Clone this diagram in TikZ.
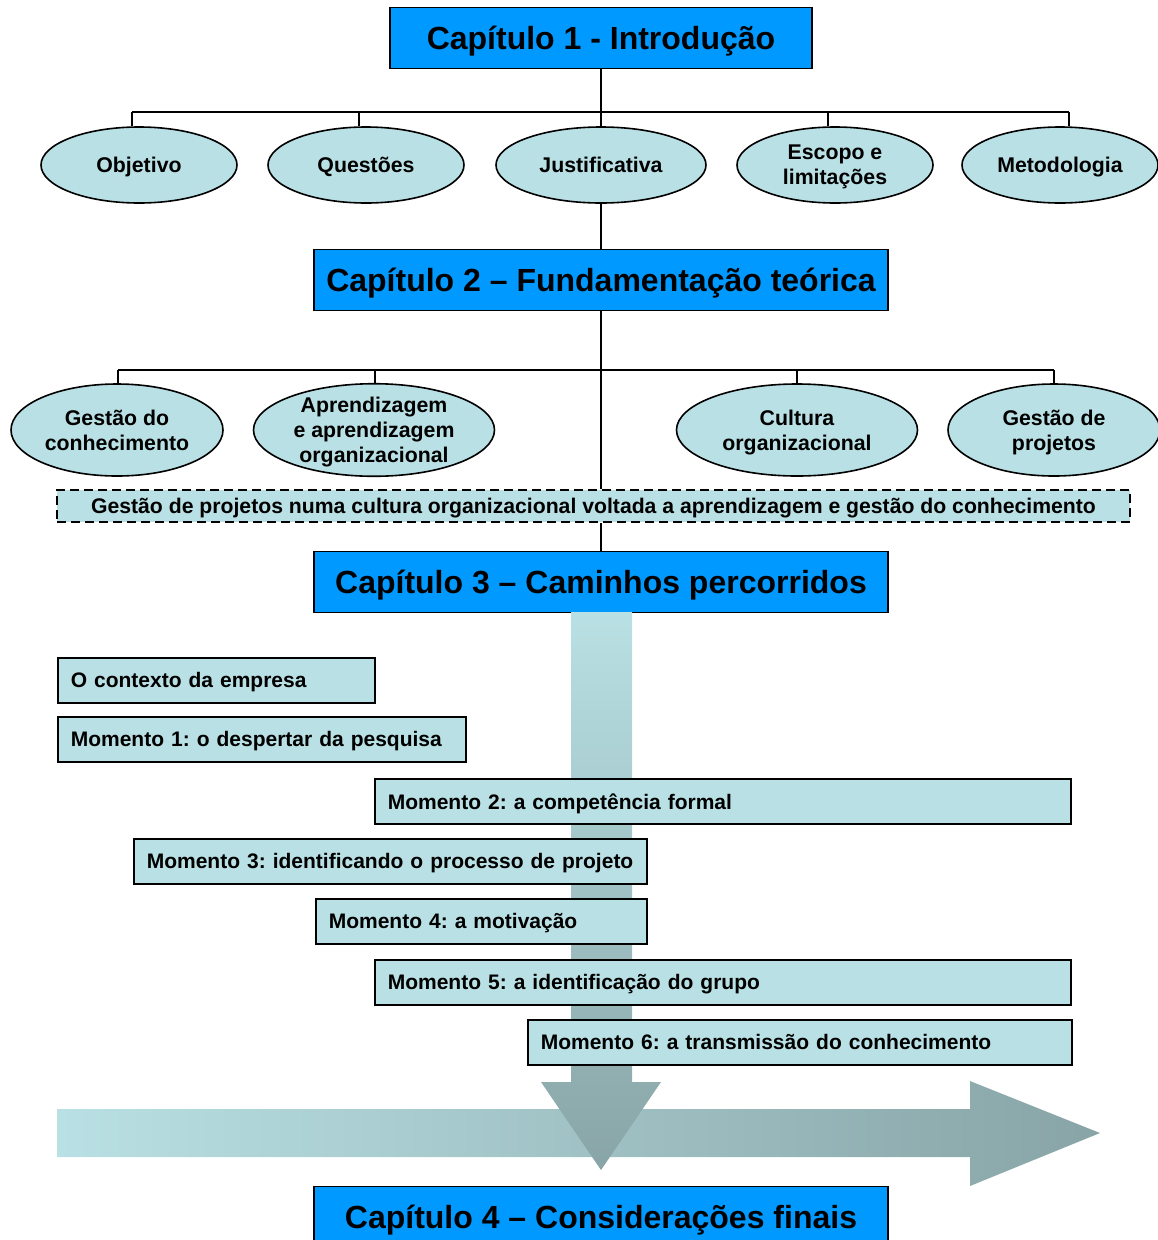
\documentclass[tikz,border=0pt]{standalone}
\usepackage{fontspec}
\setmainfont{Liberation Sans}
\usetikzlibrary{shapes.geometric}
\definecolor{capblue}{RGB}{0,153,255}
\definecolor{lightcyan}{RGB}{185,224,228}
\definecolor{greyteal}{RGB}{136,164,166}
\frenchspacing

\begin{document}
\begin{tikzpicture}[x=1pt, y=-1pt, line width=1.6pt,
    capitulo/.style={draw, fill=capblue, minimum width=574pt, minimum height=61pt, inner sep=0pt, text depth=0pt, font=\fontsize{32}{34}\selectfont\bfseries},
    topico/.style={draw, ellipse, fill=lightcyan, minimum width=196pt, minimum height=76pt, inner sep=0pt, text depth=0pt, align=center, font=\fontsize{21.3}{25}\selectfont\bfseries},
    momento/.style={draw, fill=lightcyan, minimum height=45pt, inner xsep=13pt, inner ysep=0pt, text depth=0pt, text width=#1, align=left, anchor=north west, font=\fontsize{21}{24}\selectfont\bfseries}]

\useasboundingbox (0,0) rectangle (1157,1240);

% Chapter 1 and its topics
\node[capitulo, minimum width=422pt] (cap1) at (601,38) {Capítulo 1 - Introdução};
\node[topico] (obj) at (139,165) {Objetivo};
\node[topico] (quest) at (366,165) {Questões};
\node[topico, minimum width=210pt] (just) at (601,165) {Justificativa};
\node[topico] (esc) at (835,165) {Escopo e\\limitações};
\node[topico] (met) at (1060,165) {Metodologia};

\coordinate (b1a) at (132,112);
\coordinate (b1b) at (359,112);
\coordinate (b1c) at (828,112);
\coordinate (b1d) at (1069,112);
\draw (b1a) -- (b1d);
\draw (cap1) -- (just);
\draw (b1a) -- (b1a |- obj.north);
\draw (b1b) -- (b1b |- quest.north);
\draw (b1c) -- (b1c |- esc.north);
\draw (b1d) -- (b1d |- met.north);

% Chapter 2 and its topics
\node[capitulo] (cap2) at (601,280) {Capítulo 2 – Fundamentação teórica};
\draw (just) -- (cap2);

\node[topico, minimum width=212pt, minimum height=92pt] (gc) at (117,430) {Gestão do\\conhecimento};
\node[topico, minimum width=241pt, minimum height=92pt] (apr) at (374,430) {Aprendizagem\\e aprendizagem\\organizacional};
\node[topico, minimum width=241pt, minimum height=92pt] (cult) at (797,430) {Cultura\\organizacional};
\node[topico, minimum width=212pt, minimum height=92pt] (gp) at (1054,430) {Gestão de\\projetos};

\node[draw, dashed, dash pattern=on 9pt off 5pt, line width=2.2pt, fill=lightcyan, minimum width=1073pt, minimum height=32pt, inner sep=0pt, text depth=0pt, font=\fontsize{21.2}{24}\selectfont\bfseries] (sint) at (593.5,506)
    {Gestão de projetos numa cultura organizacional voltada a aprendizagem e gestão do conhecimento};

\coordinate (b2a) at (118,370);
\coordinate (b2b) at (375,370);
\coordinate (b2c) at (797,370);
\coordinate (b2d) at (1054,370);
\draw (b2a) -- (b2d);
\draw (cap2.south) -- (cap2.south |- sint.north);
\draw (b2a) -- (b2a |- gc.north);
\draw (b2b) -- (b2b |- apr.north);
\draw (b2c) -- (b2c |- cult.north);
\draw (b2d) -- (b2d |- gp.north);

% Chapter 3
\node[capitulo] (cap3) at (601,582) {Capítulo 3 – Caminhos percorridos};
\draw (cap3.north |- sint.south) -- (cap3.north);

% Time arrow (horizontal)
\shade[left color=lightcyan, right color=greyteal] (57,1109) -- (970,1109) -- (970,1081) -- (1100,1133)
    -- (970,1186) -- (970,1157) -- (57,1157) -- cycle;

% Path arrow (vertical)
\shade[top color=lightcyan, bottom color=greyteal] (571,612) -- (632,612) -- (632,1082) -- (661,1082)
    -- (601,1170) -- (541,1082) -- (571,1082) -- cycle;

% Moments
\node[momento=291pt] (m0) at (57,657) {O contexto da empresa};
\node[momento=382pt] (m1) at (57,716) {Momento 1: o despertar da pesquisa};
\node[momento=670pt] (m2) at (374,778) {Momento 2: a competência formal};
\node[momento=487pt] (m3) at (133,838) {Momento 3: identificando o processo de projeto};
\node[momento=305pt] (m4) at (315,898) {Momento 4: a motivação};
\node[momento=670pt] (m5) at (374,959) {Momento 5: a identificação do grupo};
\node[momento=518pt] (m6) at (527,1019) {Momento 6: a transmissão do conhecimento};

% Chapter 4
\node[capitulo] (cap4) at (601,1217) {Capítulo 4 – Considerações finais};

\end{tikzpicture}
\end{document}
